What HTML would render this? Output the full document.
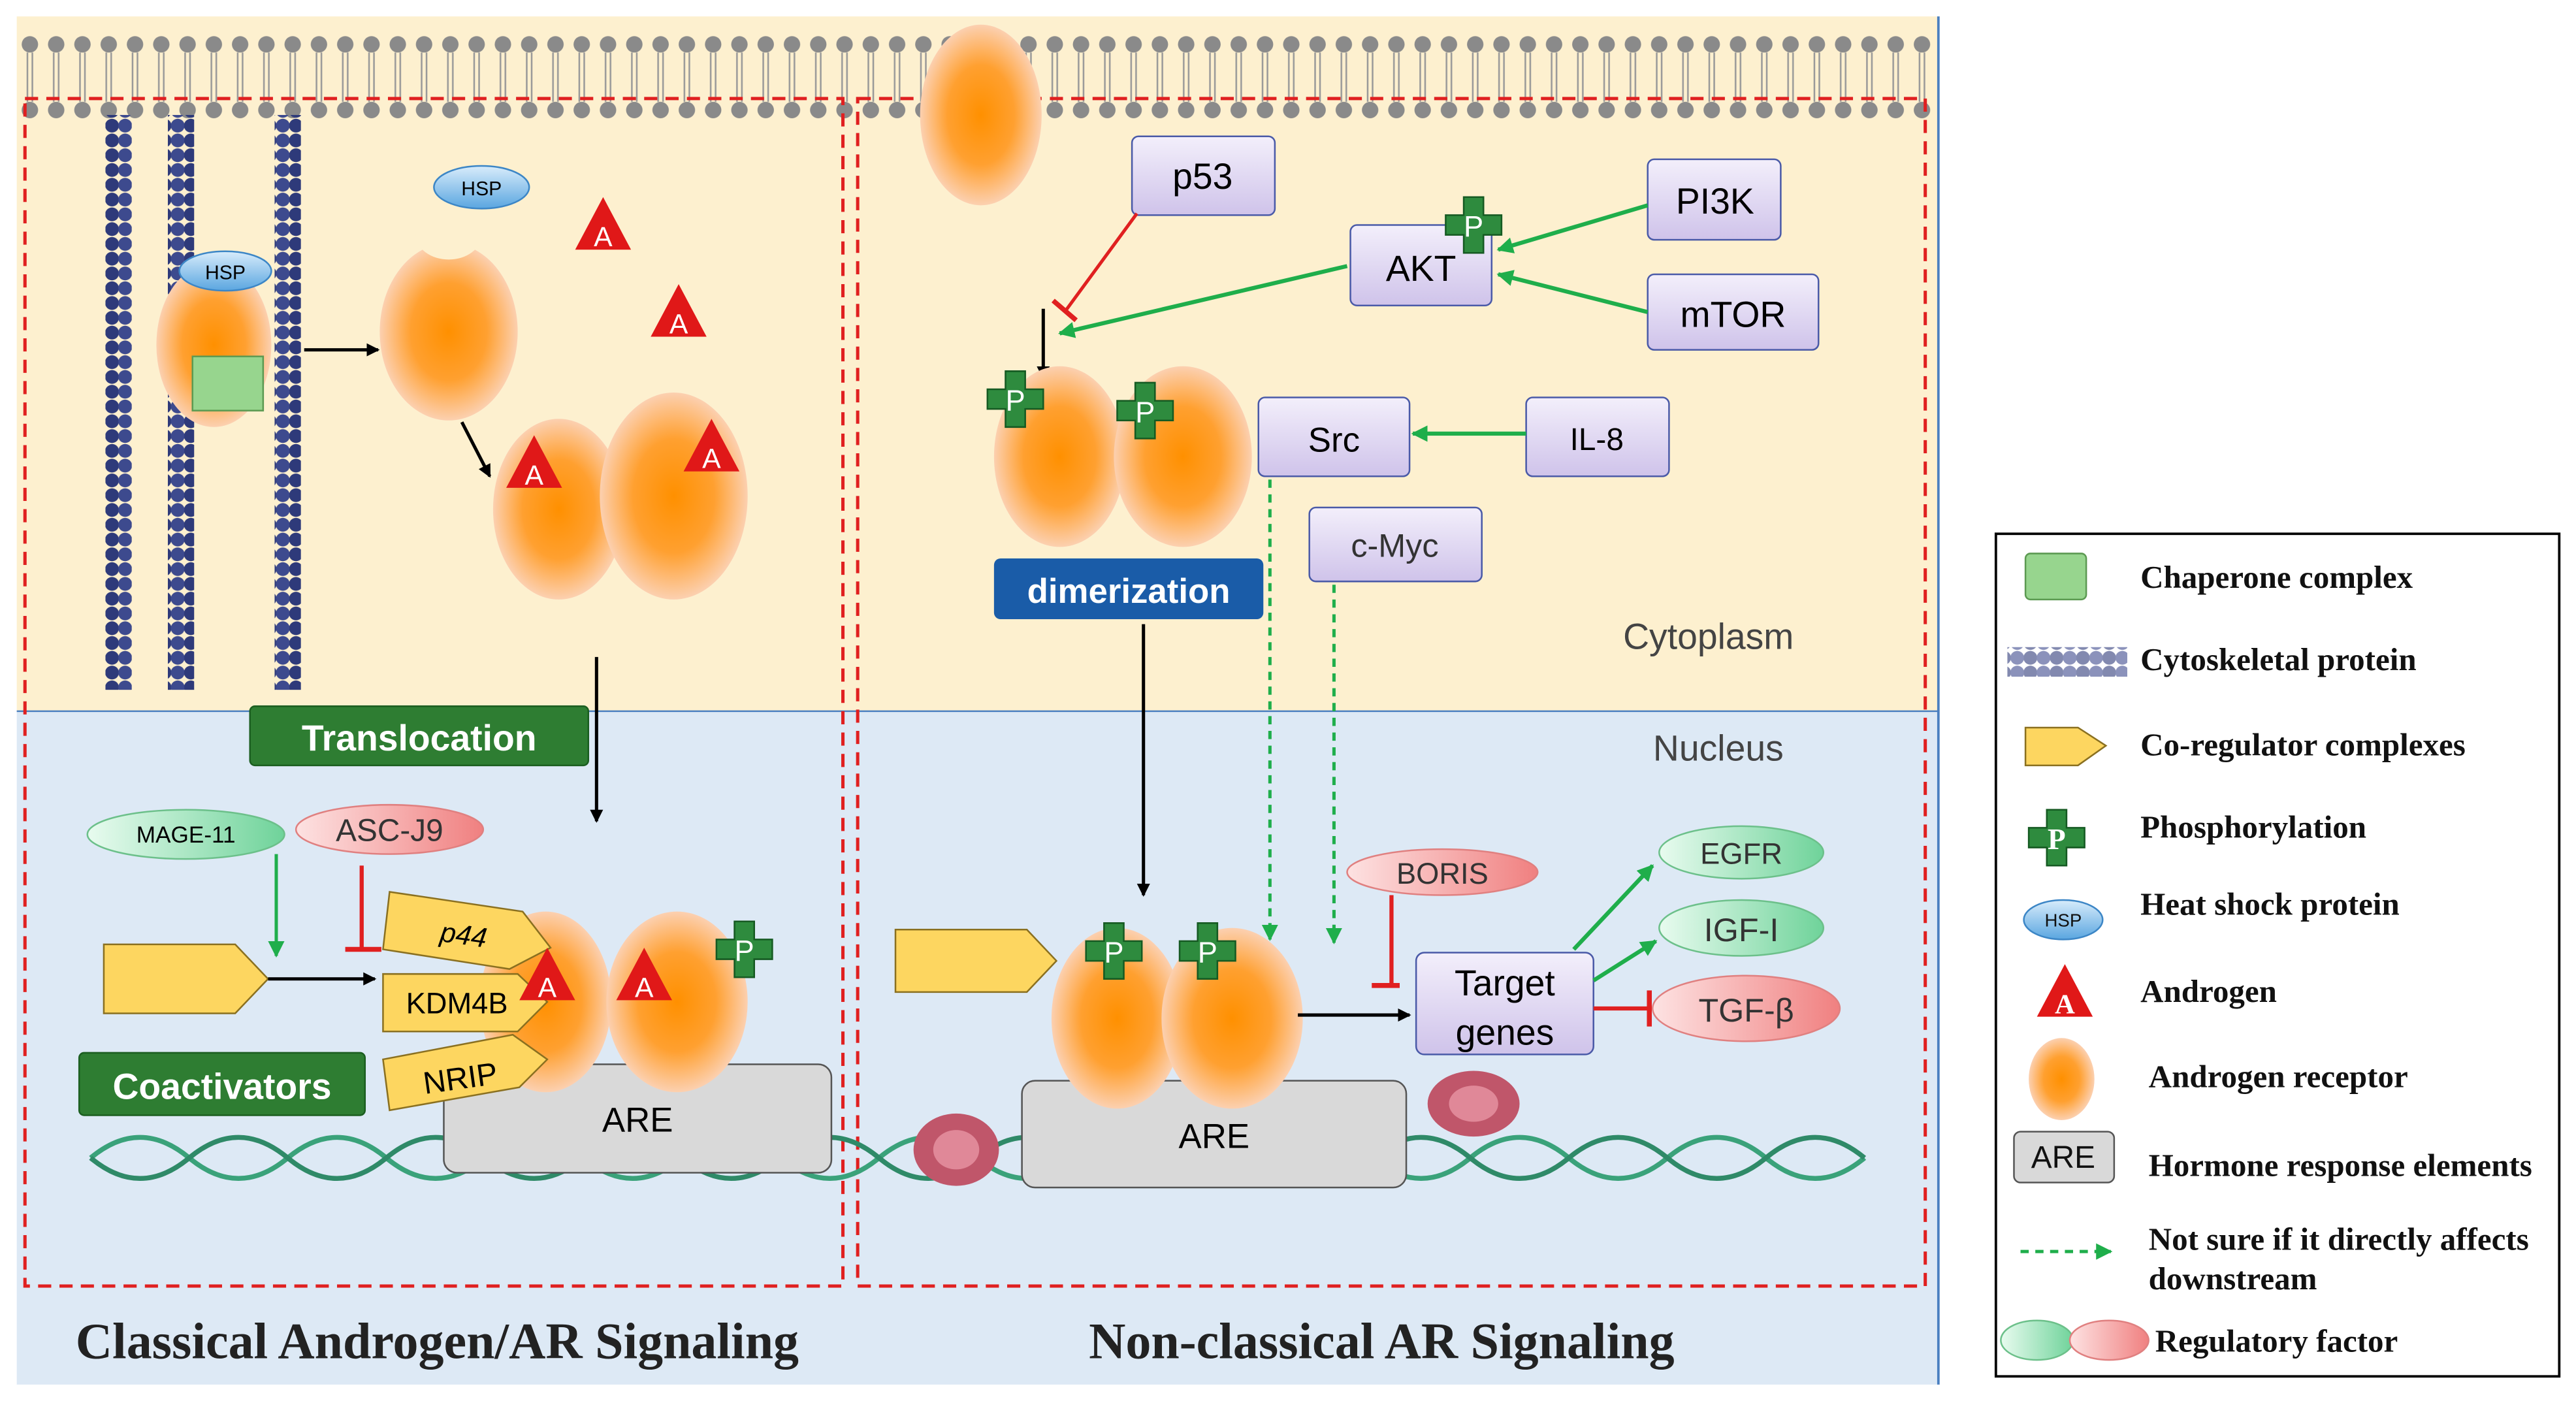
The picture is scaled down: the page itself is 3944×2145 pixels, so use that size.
<!DOCTYPE html>
<html><head><meta charset="utf-8"><style>html,body{margin:0;padding:0;background:#fff}svg{display:block}</style></head><body>
<svg width="3944" height="2145" viewBox="0 0 1568 853" xmlns="http://www.w3.org/2000/svg" font-family="Liberation Sans, sans-serif">
<defs>
<radialGradient id="ar" cx="50%" cy="50%" r="50%"><stop offset="0" stop-color="#ff9000"/><stop offset="0.55" stop-color="#ffa030"/><stop offset="1" stop-color="#fcd0b0"/></radialGradient>
<linearGradient id="hsp" x1="0" y1="0" x2="0" y2="1"><stop offset="0" stop-color="#d8ecfb"/><stop offset="1" stop-color="#5aa6e0"/></linearGradient>
<linearGradient id="gr" x1="0" y1="0" x2="1" y2="0"><stop offset="0" stop-color="#e8fbef"/><stop offset="1" stop-color="#6fd39a"/></linearGradient>
<linearGradient id="pk" x1="0" y1="0" x2="1" y2="0"><stop offset="0" stop-color="#fde2e2"/><stop offset="1" stop-color="#f08080"/></linearGradient>
<linearGradient id="lav" x1="0" y1="0" x2="0" y2="1"><stop offset="0" stop-color="#f3effb"/><stop offset="1" stop-color="#cfc3ea"/></linearGradient>
<marker id="ak" markerWidth="8" markerHeight="8" refX="7" refY="4" orient="auto" markerUnits="userSpaceOnUse"><path d="M0,0L8,4L0,8z" fill="#000"/></marker>
<marker id="ag" markerWidth="10" markerHeight="10" refX="9" refY="5" orient="auto" markerUnits="userSpaceOnUse"><path d="M0,0L10,5L0,10z" fill="#1fae4b"/></marker>
<pattern id="mem" width="16" height="60" patternUnits="userSpaceOnUse" x="10" y="15"><circle cx="8" cy="12" r="5" fill="#8a8a8a"/><circle cx="8" cy="52" r="5" fill="#8a8a8a"/><line x1="6.5" y1="17" x2="6.5" y2="47" stroke="#999" stroke-width="1"/><line x1="9.5" y1="17" x2="9.5" y2="47" stroke="#999" stroke-width="1"/></pattern>
<pattern id="cyto" width="16" height="9" patternUnits="userSpaceOnUse"><circle cx="4" cy="4.5" r="4.2" fill="#2e3a7a"/><circle cx="12" cy="4.5" r="4.2" fill="#3d4a8e"/></pattern>
<g id="P"><path d="M-6,-17h12v11h11v12h-11v11h-12v-11h-11v-12h11z" fill="#2e8b3e" stroke="#155a22" stroke-width="1"/><text x="0" y="7" font-size="18" fill="#fff" text-anchor="middle">P</text></g>
<g id="A"><path d="M0,-20L17,12L-17,12z" fill="#e01818"/><text x="0" y="10" font-size="17" fill="#fff" text-anchor="middle">A</text></g>
</defs>
<rect x="10" y="10" width="1170" height="423" fill="#fdf0cf"/>
<rect x="10" y="433" width="1170" height="410" fill="#dde9f5"/>
<line x1="1180" y1="10" x2="1180" y2="843" stroke="#4a7fc0" stroke-width="1.5"/>
<line x1="10" y1="433" x2="1180" y2="433" stroke="#4a7fc0" stroke-width="1"/>
<rect x="10" y="15" width="1170" height="60" fill="url(#mem)"/>
<rect x="64" y="70" width="16" height="350" fill="url(#cyto)"/>
<rect x="102" y="70" width="16" height="350" fill="url(#cyto)"/>
<rect x="167" y="70" width="16" height="350" fill="url(#cyto)"/>
<rect x="15" y="60" width="498" height="723" fill="none" stroke="#e02020" stroke-width="2" stroke-dasharray="8,5"/>
<rect x="522" y="60" width="650" height="723" fill="none" stroke="#e02020" stroke-width="2" stroke-dasharray="8,5"/>
<path d="M55,705 Q85,680 115,705 T175,705 T235,705 T295,705 T355,705 T415,705 T475,705 T535,705 T595,705 T655,705 T715,705 T775,705 T835,705 T895,705 T955,705 T1015,705 T1075,705 T1135,705" fill="none" stroke="#3aa27a" stroke-width="3"/>
<path d="M55,705 Q85,730 115,705 T175,705 T235,705 T295,705 T355,705 T415,705 T475,705 T535,705 T595,705 T655,705 T715,705 T775,705 T835,705 T895,705 T955,705 T1015,705 T1075,705 T1135,705" fill="none" stroke="#2f8a68" stroke-width="3"/>
<ellipse cx="582" cy="700" rx="26" ry="22" fill="#c0566a"/><ellipse cx="582" cy="700" rx="14" ry="12" fill="#e08898"/>
<ellipse cx="897" cy="672" rx="28" ry="20" fill="#c0566a"/><ellipse cx="897" cy="672" rx="15" ry="11" fill="#e08898"/>
<ellipse cx="597" cy="70" rx="37" ry="55" fill="url(#ar)"/>
<ellipse cx="293" cy="114" rx="29" ry="13" fill="url(#hsp)" stroke="#3c86c6"/><text x="293" y="119" font-size="12" text-anchor="middle">HSP</text>
<ellipse cx="130" cy="210" rx="35" ry="50" fill="url(#ar)"/>
<rect x="117" y="217" width="43" height="33" fill="#97d58e" stroke="#5c9a52"/>
<ellipse cx="137" cy="165" rx="28" ry="12" fill="url(#hsp)" stroke="#3c86c6"/><text x="137" y="170" font-size="12" text-anchor="middle">HSP</text>
<line x1="185" y1="213" x2="230" y2="213" stroke="#000" stroke-width="2" marker-end="url(#ak)"/>
<ellipse cx="273" cy="202" rx="42" ry="54" fill="url(#ar)"/>
<ellipse cx="273" cy="143" rx="20" ry="15" fill="#fdf0cf"/>
<use href="#A" x="367" y="140"/><use href="#A" x="413" y="193"/>
<line x1="281" y1="257" x2="298" y2="290" stroke="#000" stroke-width="2" marker-end="url(#ak)"/>
<ellipse cx="340" cy="310" rx="40" ry="55" fill="url(#ar)"/>
<ellipse cx="410" cy="302" rx="45" ry="63" fill="url(#ar)"/>
<use href="#A" x="325" y="285"/><use href="#A" x="433" y="275"/>
<line x1="363" y1="400" x2="363" y2="500" stroke="#000" stroke-width="2" marker-end="url(#ak)"/>
<rect x="152" y="430" width="206" height="36" rx="3" fill="#2e7d32" stroke="#1b5e20"/><text x="255" y="457" font-size="22" font-weight="bold" fill="#fff" text-anchor="middle">Translocation</text>
<ellipse cx="113" cy="508" rx="60" ry="15" fill="url(#gr)" stroke="#6cc08a"/><text x="113" y="513" font-size="14" text-anchor="middle">MAGE-11</text>
<ellipse cx="237" cy="505" rx="57" ry="15" fill="url(#pk)" stroke="#e08080"/><text x="237" y="512" font-size="19" text-anchor="middle" fill="#333">ASC-J9</text>
<line x1="168" y1="520" x2="168" y2="582" stroke="#1fae4b" stroke-width="2" marker-end="url(#ag)"/>
<line x1="220" y1="527" x2="220" y2="578" stroke="#e02020" stroke-width="2.5"/><line x1="210" y1="578" x2="232" y2="578" stroke="#e02020" stroke-width="3"/>
<path d="M63,575H143L163,596L143,617H63z" fill="#fdd660" stroke="#8a7020"/>
<line x1="163" y1="596" x2="228" y2="596" stroke="#000" stroke-width="2" marker-end="url(#ak)"/>
<rect x="270" y="648" width="236" height="66" rx="8" fill="#d9d9d9" stroke="#555"/><text x="388" y="689" font-size="21" text-anchor="middle">ARE</text>
<ellipse cx="332" cy="610" rx="40" ry="55" fill="url(#ar)"/>
<ellipse cx="412" cy="610" rx="43" ry="55" fill="url(#ar)"/>
<path d="M237,543L318,555L335,577L310,590L233,578z" fill="#fdd660" stroke="#8a7020"/><text x="282" y="575" font-size="17" font-style="italic" text-anchor="middle" transform="rotate(8 282 570)">p44</text>
<path d="M233,593H315L333,610L315,628H233z" fill="#fdd660" stroke="#8a7020"/><text x="278" y="617" font-size="18" text-anchor="middle">KDM4B</text>
<path d="M233,645L312,630L333,645L316,662L237,676z" fill="#fdd660" stroke="#8a7020"/><text x="280" y="663" font-size="19" text-anchor="middle" transform="rotate(-8 280 656)">NRIP</text>
<use href="#A" x="333" y="597"/><use href="#A" x="392" y="597"/>
<use href="#P" x="453" y="578"/>
<rect x="48" y="641" width="174" height="38" rx="3" fill="#2e7d32" stroke="#1b5e20"/><text x="135" y="669" font-size="22" font-weight="bold" fill="#fff" text-anchor="middle">Coactivators</text>
<rect x="689" y="83" width="87" height="48" rx="4" fill="url(#lav)" stroke="#4a5aa8"/><text x="732" y="115" font-size="22" text-anchor="middle">p53</text>
<line x1="692" y1="130" x2="648" y2="190" stroke="#e02020" stroke-width="2"/><line x1="641" y1="183" x2="655" y2="195" stroke="#e02020" stroke-width="3"/>
<rect x="822" y="137" width="86" height="49" rx="4" fill="url(#lav)" stroke="#4a5aa8"/><text x="865" y="171" font-size="22" text-anchor="middle">AKT</text>
<use href="#P" x="897" y="137"/>
<rect x="1003" y="97" width="81" height="49" rx="4" fill="url(#lav)" stroke="#4a5aa8"/><text x="1044" y="130" font-size="22" text-anchor="middle">PI3K</text>
<rect x="1003" y="167" width="104" height="46" rx="4" fill="url(#lav)" stroke="#4a5aa8"/><text x="1055" y="199" font-size="22" text-anchor="middle">mTOR</text>
<line x1="1003" y1="125" x2="912" y2="152" stroke="#1fae4b" stroke-width="2.5" marker-end="url(#ag)"/>
<line x1="1003" y1="190" x2="912" y2="167" stroke="#1fae4b" stroke-width="2.5" marker-end="url(#ag)"/>
<line x1="820" y1="162" x2="645" y2="203" stroke="#1fae4b" stroke-width="2.5" marker-end="url(#ag)"/>
<line x1="635" y1="188" x2="635" y2="230" stroke="#000" stroke-width="2" marker-end="url(#ak)"/>
<ellipse cx="645" cy="278" rx="40" ry="55" fill="url(#ar)"/>
<ellipse cx="720" cy="278" rx="42" ry="55" fill="url(#ar)"/>
<use href="#P" x="618" y="243"/><use href="#P" x="697" y="250"/>
<rect x="605" y="340" width="164" height="37" rx="4" fill="#1a5ca8"/><text x="687" y="367" font-size="21" font-weight="bold" fill="#fff" text-anchor="middle">dimerization</text>
<rect x="766" y="242" width="92" height="48" rx="4" fill="url(#lav)" stroke="#4a5aa8"/><text x="812" y="275" font-size="21" text-anchor="middle">Src</text>
<rect x="929" y="242" width="87" height="48" rx="4" fill="url(#lav)" stroke="#4a5aa8"/><text x="972" y="274" font-size="19" text-anchor="middle">IL-8</text>
<line x1="929" y1="264" x2="860" y2="264" stroke="#1fae4b" stroke-width="2.5" marker-end="url(#ag)"/>
<rect x="797" y="309" width="105" height="45" rx="4" fill="url(#lav)" stroke="#4a5aa8"/><text x="849" y="339" font-size="20" text-anchor="middle" fill="#333">c-Myc</text>
<line x1="773" y1="292" x2="773" y2="572" stroke="#1fae4b" stroke-width="2" stroke-dasharray="5,4" marker-end="url(#ag)"/>
<line x1="812" y1="356" x2="812" y2="574" stroke="#1fae4b" stroke-width="2" stroke-dasharray="5,4" marker-end="url(#ag)"/>
<text x="1040" y="395" font-size="22" fill="#444" text-anchor="middle">Cytoplasm</text>
<text x="1046" y="463" font-size="22" fill="#444" text-anchor="middle">Nucleus</text>
<line x1="696" y1="380" x2="696" y2="545" stroke="#000" stroke-width="2" marker-end="url(#ak)"/>
<path d="M545,566H625L643,585L625,604H545z" fill="#fdd660" stroke="#8a7020"/>
<rect x="622" y="658" width="234" height="65" rx="8" fill="#d9d9d9" stroke="#555"/><text x="739" y="699" font-size="21" text-anchor="middle">ARE</text>
<ellipse cx="680" cy="620" rx="40" ry="55" fill="url(#ar)"/>
<ellipse cx="750" cy="620" rx="43" ry="55" fill="url(#ar)"/>
<use href="#P" x="678" y="579"/><use href="#P" x="735" y="579"/>
<line x1="790" y1="618" x2="858" y2="618" stroke="#000" stroke-width="2" marker-end="url(#ak)"/>
<ellipse cx="878" cy="531" rx="58" ry="14" fill="url(#pk)" stroke="#e08080"/><text x="878" y="538" font-size="18" text-anchor="middle" fill="#333">BORIS</text>
<line x1="847" y1="545" x2="847" y2="600" stroke="#e02020" stroke-width="2.5"/><line x1="835" y1="600" x2="852" y2="600" stroke="#e02020" stroke-width="3"/>
<rect x="862" y="580" width="108" height="62" rx="5" fill="url(#lav)" stroke="#4a5aa8"/><text x="916" y="606" font-size="22" text-anchor="middle">Target</text><text x="916" y="636" font-size="22" text-anchor="middle">genes</text>
<ellipse cx="1060" cy="519" rx="50" ry="16" fill="url(#gr)" stroke="#6cc08a"/><text x="1060" y="526" font-size="18" text-anchor="middle" fill="#333">EGFR</text>
<ellipse cx="1060" cy="565" rx="50" ry="17" fill="url(#gr)" stroke="#6cc08a"/><text x="1060" y="573" font-size="20" text-anchor="middle" fill="#333">IGF-I</text>
<ellipse cx="1063" cy="614" rx="57" ry="20" fill="url(#pk)" stroke="#e08080"/><text x="1063" y="622" font-size="20" text-anchor="middle" fill="#333">TGF-β</text>
<line x1="958" y1="578" x2="1006" y2="527" stroke="#1fae4b" stroke-width="2.5" marker-end="url(#ag)"/>
<line x1="970" y1="597" x2="1008" y2="573" stroke="#1fae4b" stroke-width="2.5" marker-end="url(#ag)"/>
<line x1="970" y1="614" x2="1004" y2="614" stroke="#e02020" stroke-width="2.5"/><line x1="1004" y1="603" x2="1004" y2="625" stroke="#e02020" stroke-width="3"/>
<text x="266" y="827" font-size="31" font-weight="bold" font-family="Liberation Serif, serif" fill="#222" text-anchor="middle">Classical Androgen/AR Signaling</text>
<text x="841" y="827" font-size="31" font-weight="bold" font-family="Liberation Serif, serif" fill="#222" text-anchor="middle">Non-classical AR Signaling</text>
<rect x="1215" y="325" width="343" height="513" fill="#fff" stroke="#000" stroke-width="1.5"/>
<g font-family="Liberation Serif, serif" font-weight="bold" font-size="19.5" fill="#111">
<rect x="1233" y="337" width="37" height="28" rx="3" fill="#97d58e" stroke="#5c9a52"/><text x="1303" y="358">Chaperone complex</text>
<rect x="1222" y="394" width="73" height="18" fill="url(#cyto)" opacity="0.6"/><text x="1303" y="408">Cytoskeletal protein</text>
<path d="M1233,443H1265L1282,454L1265,466H1233z" fill="#fdd660" stroke="#8a7020"/><text x="1303" y="460">Co-regulator complexes</text>
<use href="#P" x="1252" y="510"/><text x="1303" y="510">Phosphorylation</text>
<ellipse cx="1256" cy="560" rx="24" ry="12" fill="url(#hsp)" stroke="#3c86c6"/><text x="1256" y="564" font-size="11" font-weight="normal" font-family="Liberation Sans, sans-serif" text-anchor="middle">HSP</text><text x="1303" y="557">Heat shock protein</text>
<use href="#A" x="1257" y="607"/><text x="1303" y="610">Androgen</text>
<ellipse cx="1255" cy="657" rx="20" ry="25" fill="url(#ar)"/><text x="1308" y="662">Androgen receptor</text>
<rect x="1226" y="689" width="61" height="31" rx="4" fill="#d9d9d9" stroke="#555"/><text x="1256" y="711" font-size="19" font-weight="normal" font-family="Liberation Sans, sans-serif" text-anchor="middle">ARE</text><text x="1308" y="716">Hormone response elements</text>
<line x1="1230" y1="762" x2="1285" y2="762" stroke="#1fae4b" stroke-width="2" stroke-dasharray="5,4" marker-end="url(#ag)"/><text x="1308" y="761">Not sure if it directly affects</text><text x="1308" y="785">downstream</text>
<ellipse cx="1240" cy="816" rx="22" ry="12" fill="url(#gr)" stroke="#6cc08a"/><ellipse cx="1284" cy="816" rx="24" ry="12" fill="url(#pk)" stroke="#e08080"/><text x="1312" y="823">Regulatory factor</text>
</g>
</svg>
</body></html>
